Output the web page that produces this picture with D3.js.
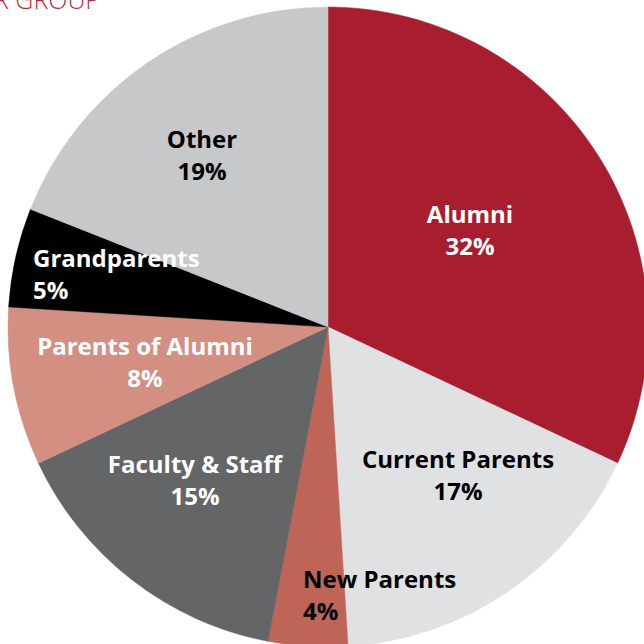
<!DOCTYPE html>
<html>
<head>
<meta charset="utf-8">
<script src="https://cdn.jsdelivr.net/npm/d3@7"></script>
<style>
  html, body { margin: 0; padding: 0; background: #fff; overflow: hidden; }
  svg { display: block; }
</style>
</head>
<body>
<div id="chart"></div>
<script>
// donor groups, clockwise from 12 o'clock
const groups = ["Alumni", "Current Parents", "New Parents", "Faculty & Staff", "Parents of Alumni", "Grandparents", "Other"];
const shares = [32, 17, 4, 15, 8, 5, 19];
const colours = ["#a91e2f", "#e0e1e3", "#bf6558", "#646567", "#d38f82", "#000000", "#c7c8ca"];
const textColours = ["#fff", "#000", "#000", "#fff", "#fff", "#fff", "#000"];

// label placement (first line baseline, anchor)
const labelX = [470, 458, 303, 195, 145, 33, 202];
const labelY = [223, 468, 588, 473, 355, 267, 148];
const labelAnchor = ["middle", "middle", "start", "middle", "middle", "start", "middle"];

function init(){

    const width = 644;
    const height = 644;
    const cx = 328, cy = 327, radius = 320;

    const svg = d3.select("#chart")
                .append("svg")
                .attr("width", width)
                .attr("height", height);

    // title, cut off at the top of the page like the source
    svg.append("text")
        .attr("x", -6)
        .attr("y", 9)
        .text("R GROUP")
        .attr("font-family", "'Open Sans', sans-serif")
        .attr("font-weight", 300)
        .attr("font-size", "25px")
        .attr("fill", "#b5313f");

    const data = groups.map((g, i) => ({ group: g, value: shares[i], i: i }));

    const pie = d3.pie()
                .value(d => d.value)
                .sort(null);

    const arc = d3.arc()
                .innerRadius(0)
                .outerRadius(radius);

    const g = svg.append("g")
                .attr("transform", `translate(${cx},${cy})`);

    g.selectAll(".slice")
        .data(pie(data))
        .enter().append("path")
        .attr("class", "slice")
        .attr("d", arc)
        .attr("fill", d => colours[d.data.i])
        .attr("stroke", d => colours[d.data.i])
        .attr("stroke-width", 0.5);

    const labels = svg.selectAll(".label")
                    .data(data)
                    .enter().append("text")
                    .attr("class", "label")
                    .attr("font-family", "'Open Sans', sans-serif")
                    .attr("font-weight", 700)
                    .attr("font-size", "24px")
                    .attr("text-anchor", d => labelAnchor[d.i])
                    .attr("fill", d => textColours[d.i]);

    labels.append("tspan")
        .attr("x", d => labelX[d.i])
        .attr("y", d => labelY[d.i])
        .text(d => d.group);

    labels.append("tspan")
        .attr("x", d => labelX[d.i])
        .attr("dy", 32)
        .text(d => d.value + "%");
}
window.onload = init;
</script>
</body>
</html>
